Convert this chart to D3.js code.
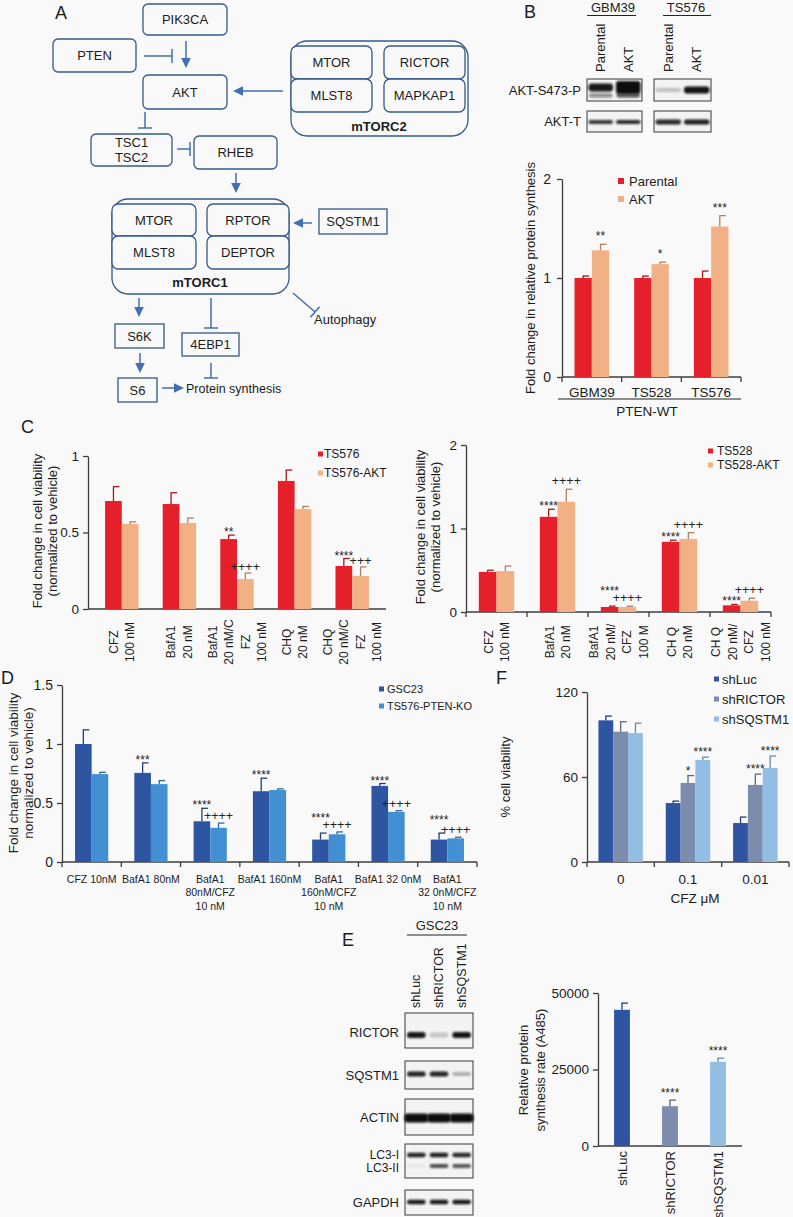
<!DOCTYPE html>
<html><head><meta charset="utf-8">
<script src="https://cdn.jsdelivr.net/npm/d3@7"></script>
<style>
body{margin:0;background:#f9f9f9;}
svg{display:block;font-family:"Liberation Sans",Arial,Helvetica,sans-serif;}
</style></head><body>
<svg id="fig" width="793" height="1217"></svg>
<script>
// ---------------- DATA ----------------
// Panel B
const bGroups = ["GBM39", "TS528", "TS576"];
const bParental = [1.0, 1.0, 1.0];
const bParentalErr = [1.02, 1.02, 1.07];
const bAKT = [1.28, 1.14, 1.52];
const bAKTErr = [1.34, 1.16, 1.63];
const bAKTSig = ["**", "*", "***"];
const bParentalSig = ["", "", ""];
const bYTicks = [0, 1, 2];
const bLanes = ["Parental", "AKT", "Parental ", "AKT "];
const bBlotPhos = [0.95, 1.0, 0.22, 0.97];
const bBlotTotal = [0.82, 0.88, 0.88, 0.92];

// Panel C left
const cLGroups = [["CFZ", "100 nM"], ["BafA1", "20 nM"], ["BafA1", "20 nM/C", "FZ", "100 nM"], ["CHQ", "20 nM"], ["CHQ", "20 nM/C", "FZ", "100 nM"]];
const cLTS576 = [0.706, 0.686, 0.457, 0.837, 0.281];
const cLTS576Err = [0.80, 0.76, 0.483, 0.908, 0.33];
const cLTS576AKT = [0.556, 0.562, 0.196, 0.653, 0.216];
const cLTS576AKTErr = [0.57, 0.595, 0.235, 0.67, 0.275];
const cLSig1 = ["", "", "**", "", "****"];
const cLSig2 = ["", "", "++++", "", "+++"];
const cLYTicks = [0, 0.5, 1];

// Panel C right
const cRGroups = [["CFZ", "100 nM"], ["BafA1", "20 nM"], ["BafA1", "20 nM/", "CFZ", "100 M"], ["CH Q", "20 nM"], ["CH Q", "20 nM/", "CFZ", "100 nM"]];
const cRTS528 = [0.48, 1.14, 0.06, 0.84, 0.08];
const cRTS528Err = [0.50, 1.23, 0.07, 0.86, 0.09];
const cRTS528AKT = [0.49, 1.32, 0.06, 0.875, 0.135];
const cRTS528AKTErr = [0.55, 1.47, 0.07, 0.95, 0.165];
const cRSig1 = ["", "****", "****", "****", "****"];
const cRSig2 = ["", "++++", "++++", "++++", "++++"];
const cRYTicks = [0, 1, 2];

// Panel D
const dGroups = [["CFZ 10nM"], ["BafA1 80nM"], ["BafA1", "80nM/CFZ", "10 nM"], ["BafA1 160nM"], ["BafA1", "160nM/CFZ", "10 nM"], ["BafA1 32 0nM"], ["BafA1", "32 0nM/CFZ", "10 nM"]];
const dGSC23 = [1.0, 0.755, 0.345, 0.60, 0.19, 0.645, 0.19];
const dGSC23Err = [1.12, 0.84, 0.455, 0.71, 0.245, 0.665, 0.245];
const dPTENKO = [0.745, 0.66, 0.29, 0.61, 0.235, 0.425, 0.20];
const dPTENKOErr = [0.76, 0.69, 0.33, 0.62, 0.255, 0.435, 0.21];
const dSig1 = ["", "***", "****", "****", "****", "****", "****"];
const dSig2 = ["", "", "++++", "", "++++", "++++", "++++"];
const dYTicks = [0, 0.5, 1, 1.5];

// Panel F
const fGroups = ["0", "0.1", "0.01"];
const fShLuc = [100, 41.6, 27.5];
const fShLucErr = [103, 43, 31.7];
const fShRICTOR = [92, 55.8, 54.4];
const fShRICTORErr = [99, 61, 62];
const fShSQSTM1 = [91, 72, 66.4];
const fShSQSTM1Err = [98, 74, 74.8];
const fSigLuc = ["", "", ""];
const fSigRICTOR = ["", "*", "****"];
const fSigSQSTM1 = ["", "****", "****"];
const fYTicks = [0, 60, 120];

// Panel E
const eLanes = ["shLuc", "shRICTOR", "shSQSTM1"];
const eRate = [44500, 13000, 27500];
const eRateErr = [46700, 15000, 28700];
const eSig = ["", "****", "****"];
const eYTicks = [0, 25000, 50000];
const eBlotRICTOR = [0.95, 0.2, 0.97];
const eBlotSQSTM1 = [0.9, 0.9, 0.3];
const eBlotACTIN = [1.0, 1.0, 1.0];
const eBlotLC3I = [0.9, 0.92, 0.88];
const eBlotLC3II = [0.06, 0.72, 0.68];
const eBlotGAPDH = [0.95, 0.95, 0.95];

// Panel A pathway nodes
const aNodes = ["PIK3CA", "PTEN", "AKT", "TSC1\nTSC2", "RHEB", "MTOR", "MLST8", "RICTOR", "MAPKAP1", "MTOR ", "MLST8 ", "RPTOR", "DEPTOR", "SQSTM1", "S6K", "4EBP1", "S6"];

// ---------------- COLOURS ----------------
const RED = "#e5202a", PEACH = "#f2b184";
const DBLUE = "#2d55a2", LBLUE = "#428fd3";
const GBLUE = "#7b8cac", PBLUE = "#93bde3";
const AXC = "#3c3c3c", TXT = "#1c1c1c";
const BOXC = "#35598a", ARC = "#416fb1";

const svg = d3.select("#fig");
const defs = svg.append("defs");
defs.append("filter").attr("id", "blur").attr("x", "-30%").attr("y", "-80%").attr("width", "160%").attr("height", "260%")
  .append("feGaussianBlur").attr("stdDeviation", 1.1);

function txt(x, y, s, o = {}) {
  const t = svg.append("text").attr("x", x).attr("y", y).text(s)
    .attr("font-size", o.size || 13).attr("fill", o.fill || TXT)
    .attr("text-anchor", o.anchor || "start");
  if (o.weight) t.attr("font-weight", o.weight);
  if (o.dy) t.attr("dy", o.dy);
  if (o.rotate) t.attr("transform", `rotate(${o.rotate},${x},${y})`);
  return t;
}

// ---------------- PANEL LABELS ----------------
txt(55, 19, "A", {size: 18});
txt(524, 18, "B", {size: 18});
txt(21, 433, "C", {size: 18});
txt(1, 684, "D", {size: 18});
txt(342, 946, "E", {size: 18});
txt(496, 684, "F", {size: 18});

// ---------------- PANEL A ----------------
const aLayout = {
  "PIK3CA": [143, 4, 84, 31, 5], "PTEN": [53, 39, 83, 33, 5], "AKT": [143, 75, 84, 34, 5],
  "TSC1\nTSC2": [91, 134, 81, 32, 5], "RHEB": [194, 136, 83, 33, 5],
  "MTOR": [291, 46, 81, 33, 6], "MLST8": [291, 79, 81, 33, 6], "RICTOR": [384, 46, 81, 33, 6], "MAPKAP1": [384, 79, 81, 33, 6],
  "MTOR ": [112, 204, 84, 32, 6], "MLST8 ": [112, 236, 84, 33, 6], "RPTOR": [207, 204, 82, 32, 6], "DEPTOR": [207, 236, 82, 33, 6],
  "SQSTM1": [319, 209, 68, 25, 0], "S6K": [115, 324, 49, 24, 0], "4EBP1": [182, 333, 57, 23, 0], "S6": [118, 378, 39, 24, 0]
};
svg.append("rect").attr("x", 291).attr("y", 41).attr("width", 177).attr("height", 95).attr("rx", 16)
  .attr("fill", "none").attr("stroke", BOXC).attr("stroke-width", 1.3);
svg.append("rect").attr("x", 112).attr("y", 199).attr("width", 177).attr("height", 95).attr("rx", 16)
  .attr("fill", "none").attr("stroke", BOXC).attr("stroke-width", 1.3);
txt(379, 130.5, "mTORC2", {anchor: "middle", weight: "bold"});
txt(200, 286.5, "mTORC1", {anchor: "middle", weight: "bold"});
aNodes.forEach(n => {
  const [x, y, w, h, r] = aLayout[n];
  svg.append("rect").attr("x", x).attr("y", y).attr("width", w).attr("height", h).attr("rx", r)
    .attr("fill", "#f9f9f9").attr("stroke", BOXC).attr("stroke-width", 1.3);
  const lines = n.split("\n");
  lines.forEach((l, i) => {
    txt(x + w / 2, y + h / 2 + (i - (lines.length - 1) / 2) * 15, l.trim(), {anchor: "middle", dy: "0.36em"});
  });
});
function arrow(x1, y1, x2, y2) {
  const L = Math.hypot(x2 - x1, y2 - y1), ux = (x2 - x1) / L, uy = (y2 - y1) / L;
  const bx = x2 - ux * 10, by = y2 - uy * 10;
  svg.append("line").attr("x1", x1).attr("y1", y1).attr("x2", bx).attr("y2", by).attr("stroke", ARC).attr("stroke-width", 1.5);
  svg.append("path").attr("d", `M${x2},${y2}L${bx - uy * 4.8},${by + ux * 4.8}L${bx + uy * 4.8},${by - ux * 4.8}Z`).attr("fill", ARC);
}
function inhibit(x1, y1, x2, y2) {
  const L = Math.hypot(x2 - x1, y2 - y1), ux = (x2 - x1) / L, uy = (y2 - y1) / L;
  svg.append("line").attr("x1", x1).attr("y1", y1).attr("x2", x2).attr("y2", y2).attr("stroke", ARC).attr("stroke-width", 1.5);
  svg.append("line").attr("x1", x2 - uy * 7).attr("y1", y2 + ux * 7).attr("x2", x2 + uy * 7).attr("y2", y2 - ux * 7).attr("stroke", ARC).attr("stroke-width", 1.5);
}
arrow(186, 41, 186, 68);
inhibit(144, 56, 172, 56);
arrow(283, 91, 233, 91);
inhibit(145, 112, 145, 128);
inhibit(177, 149, 190, 149);
arrow(236, 173, 236, 193);
arrow(312, 223, 293, 223);
arrow(139, 298, 139, 317);
inhibit(211, 298, 211, 328);
inhibit(293, 293, 315, 312);
arrow(140, 353, 140, 373);
arrow(162, 388, 184, 388);
inhibit(211, 363, 211, 378);
txt(186, 388, "Protein synthesis", {dy: "0.36em", size: 12.5});
txt(314, 319, "Autophagy", {dy: "0.36em"});

// ---------------- BLOTS ----------------
function blotBox(x, y, w, h) {
  svg.append("rect").attr("x", x).attr("y", y).attr("width", w).attr("height", h)
    .attr("fill", "#f3f3f3").attr("stroke", "#4a4a4a").attr("stroke-width", 1.1);
}
function band(cx, cy, w, h, op) {
  svg.append("rect").attr("x", cx - w / 2).attr("y", cy - h / 2).attr("width", w).attr("height", h)
    .attr("rx", Math.min(h / 2, 3)).attr("fill", "#0a0a0a").attr("opacity", op).attr("filter", "url(#blur)");
}
const bBoxes = [[587, 55, [0, 1]], [654, 57, [2, 3]]];
txt(613, 12, "GBM39", {anchor: "middle"});
txt(686, 12, "TS576", {anchor: "middle"});
svg.append("line").attr("x1", 587).attr("x2", 636).attr("y1", 15.5).attr("y2", 15.5).attr("stroke", "#222");
svg.append("line").attr("x1", 663).attr("x2", 711).attr("y1", 15.5).attr("y2", 15.5).attr("stroke", "#222");
bBoxes.forEach(([bx, bw, idx]) => {
  const lx = d3.scaleBand().domain(idx.map(i => bLanes[i])).range([bx, bx + bw]);
  blotBox(bx, 79, bw, 22);
  blotBox(bx, 111, bw, 21);
  idx.forEach(i => {
    const c = lx(bLanes[i]) + lx.bandwidth() / 2;
    txt(c + 4.5, 72, bLanes[i].trim(), {rotate: -90});
    const p = bBlotPhos[i];
    if (p > 0.9 && bx < 600) {
      band(c, 87.5, lx.bandwidth() - 3, i === 1 ? 13 : 8, p);
      band(c, 95.5, lx.bandwidth() - 4, 4, i === 1 ? 0.7 : 0.45);
    } else {
      band(c, 90, lx.bandwidth() - 3, p > 0.5 ? 7 : 4, p);
    }
    band(c, 122, lx.bandwidth() - 3, bx < 600 ? 4 : 5, bBlotTotal[i]);
  });
});
txt(581, 90, "AKT-S473-P", {anchor: "end", dy: "0.36em"});
txt(581, 121, "AKT-T", {anchor: "end", dy: "0.36em"});

const eX = 405, eW = 68;
const eLx = d3.scaleBand().domain(eLanes).range([eX, eX + eW]);
txt(437, 930, "GSC23", {anchor: "middle"});
svg.append("line").attr("x1", 407).attr("x2", 467).attr("y1", 935).attr("y2", 935).attr("stroke", "#222");
const eRowsLayout = [
  {name: "RICTOR", y: 1013, h: 35, bands: [[eBlotRICTOR, 1035, 6]]},
  {name: "SQSTM1", y: 1061, h: 28, bands: [[eBlotSQSTM1, 1074, 5]]},
  {name: "ACTIN", y: 1099, h: 36, bands: [[eBlotACTIN, 1118, 9]]},
  {name: "LC3", y: 1144, h: 34, bands: [[eBlotLC3I, 1155, 4.5], [eBlotLC3II, 1166, 4]]},
  {name: "GAPDH", y: 1190, h: 25, bands: [[eBlotGAPDH, 1202, 4.5]]}
];
eRowsLayout.forEach(r => {
  blotBox(eX, r.y, eW, r.h);
  r.bands.forEach(([vals, cy, h]) => {
    eLanes.forEach((l, i) => {
      const c = eLx(l) + eLx.bandwidth() / 2;
      const w = r.name === "ACTIN" ? eLx.bandwidth() + 1 : eLx.bandwidth() - 4;
      band(c, cy, w, vals[i] < 0.4 ? h - 1 : h, vals[i]);
    });
  });
});
eLanes.forEach(l => txt(eLx(l) + eLx.bandwidth() / 2 + 4, 1008, l, {rotate: -90, size: 12.5}));
txt(399, 1032, "RICTOR", {anchor: "end", dy: "0.36em"});
txt(399, 1075, "SQSTM1", {anchor: "end", dy: "0.36em"});
txt(399, 1117, "ACTIN", {anchor: "end", dy: "0.36em"});
txt(399, 1155, "LC3-I", {anchor: "end", dy: "0.33em", size: 12});
txt(399, 1168, "LC3-II", {anchor: "end", dy: "0.33em", size: 12});
txt(399, 1202, "GAPDH", {anchor: "end", dy: "0.36em"});

// ---------------- BAR CHART ----------------
function barChart(c) {
  const g = svg.append("g");
  const y = d3.scaleLinear().domain([0, c.yMax]).range([c.y0, c.y1]);
  const keys = c.groups.map(d => Array.isArray(d) ? d.join("|") : d);
  const x0 = d3.scaleBand().domain(keys).range(c.band);
  const x1 = d3.scaleBand().domain(c.series.map(s => s.name))
    .range([x0.bandwidth() * c.gpad, x0.bandwidth() * (1 - c.gpad)]);
  const bw = x1.bandwidth();
  g.append("line").attr("x1", c.axisX[0]).attr("x2", c.axisX[1]).attr("y1", y(0)).attr("y2", y(0))
    .attr("stroke", AXC).attr("stroke-width", 1.3);
  if (c.xTicks) {
    keys.map(k => x0(k)).concat([c.band[1]]).forEach(xx => {
      g.append("line").attr("x1", xx).attr("x2", xx).attr("y1", y(0)).attr("y2", y(0) + 5).attr("stroke", AXC).attr("stroke-width", 1.3);
    });
  }
  c.series.forEach(s => {
    keys.forEach((k, i) => {
      const col = s.colors ? s.colors[i] : s.color;
      const err = d3.color(col).darker(c.errDark || 0.9).formatHex();
      const bx = x0(k) + x1(s.name), cx = bx + bw / 2;
      g.append("rect").attr("x", bx).attr("y", y(s.values[i])).attr("width", bw)
        .attr("height", y(0) - y(s.values[i])).attr("fill", col);
      if (s.errs) {
        g.append("line").attr("x1", cx).attr("x2", cx).attr("y1", y(s.values[i])).attr("y2", y(s.errs[i])).attr("stroke", err).attr("stroke-width", 1.3);
        g.append("line").attr("x1", cx - 0.5).attr("x2", cx + 6).attr("y1", y(s.errs[i])).attr("y2", y(s.errs[i])).attr("stroke", err).attr("stroke-width", 1.3);
      }
    });
  });
  keys.forEach((k, i) => {
    const marks = c.series.map(s => {
      if (!s.sig || !s.sig[i]) return null;
      const cx = x0(k) + x1(s.name) + bw / 2;
      const plus = s.sig[i][0] === "+";
      const yc = y(s.errs[i]) - (plus ? c.plusOff : c.sigOff);
      return {cx, yc, plus, t: s.sig[i]};
    });
    const m = marks.filter(d => d);
    if (m.length === 2 && Math.abs(m[0].yc - m[1].yc) < 8) {
      m[0].yc = Math.min(m[0].yc, m[1].yc) - 10;
    }
    m.forEach(d => {
      g.append("text").attr("x", d.cx).attr("y", d.yc + (d.plus ? 4.2 : 7)).attr("text-anchor", "middle")
        .attr("font-size", d.plus ? 12.5 : c.starSize || 12).attr("fill", "#222").text(d.t);
    });
  });
  const ax = g.append("g").attr("transform", `translate(${c.axisX[0]},0)`)
    .call(d3.axisLeft(y).tickValues(c.yTicks).tickFormat(d3.format("~g")).tickSize(5).tickSizeOuter(0).tickPadding(c.tickPad || 4));
  ax.select(".domain").attr("stroke", AXC).attr("stroke-width", 1.3);
  ax.selectAll(".tick line").attr("stroke", AXC).attr("stroke-width", 1.3);
  ax.selectAll(".tick text").attr("font-size", c.tickFont || 13).attr("fill", TXT).attr("font-family", null);
  keys.forEach((k, i) => {
    const lines = Array.isArray(c.groups[i]) ? c.groups[i] : [c.groups[i]];
    const cx = x0(k) + x0.bandwidth() / 2;
    if (c.xLabelMode === "rot") {
      lines.forEach((l, j) => {
        const lx = cx + (j - (lines.length - 1) / 2) * c.lineGap;
        txt(lx, c.labelY, l, {anchor: "middle", rotate: -90, dy: "0.36em", size: c.labelFont});
      });
    } else if (c.xLabelMode === "rotEnd") {
      txt(cx, c.labelY, lines[0], {anchor: "end", rotate: -90, dy: "0.36em", size: c.labelFont});
    } else {
      lines.forEach((l, j) => {
        txt(cx, c.labelY + j * c.lineGap, l, {anchor: "middle", dy: "0.36em", size: c.labelFont});
      });
    }
  });
  if (c.legend) {
    c.series.forEach((s, i) => {
      const ly = c.legend.y + i * c.legend.gap;
      g.append("rect").attr("x", c.legend.x).attr("y", ly - c.legend.sq / 2).attr("width", c.legend.sq).attr("height", c.legend.sq).attr("fill", s.color);
      txt(c.legend.x + c.legend.sq + c.legend.pad, ly, s.name, {dy: "0.36em", size: c.legend.size});
    });
  }
  c.yLabel.forEach((l, j) => {
    txt(c.yLabelX[j], c.yLabelY, l, {anchor: "middle", rotate: -90, dy: "0.36em", size: c.yLabelSize || 13});
  });
  return {x0, y};
}

barChart({
  y0: 377, y1: 179, yMax: 2, yTicks: bYTicks, band: [562, 741], axisX: [562, 741], gpad: 0.21, xTicks: true,
  series: [
    {name: "Parental", color: RED, values: bParental, errs: bParentalErr, sig: bParentalSig},
    {name: "AKT", color: PEACH, values: bAKT, errs: bAKTErr, sig: bAKTSig}
  ],
  groups: bGroups, sigOff: 11, plusOff: 8, tickPad: 6, tickFont: 14,
  xLabelMode: "h", labelY: 392, lineGap: 14, labelFont: 13.5,
  legend: {x: 618, y: 181, gap: 18, sq: 6, pad: 5, size: 13},
  yLabel: ["Fold change in relative protein synthesis"], yLabelX: [530], yLabelY: 278
});
svg.append("line").attr("x1", 558).attr("x2", 741).attr("y1", 399).attr("y2", 399).attr("stroke", "#222").attr("stroke-width", 1.1);
txt(647, 416, "PTEN-WT", {anchor: "middle", size: 13.5});

barChart({
  y0: 609, y1: 456, yMax: 1, yTicks: cLYTicks, band: [93, 381], axisX: [88, 386], gpad: 0.21, xTicks: false,
  series: [
    {name: "TS576", color: RED, values: cLTS576, errs: cLTS576Err, sig: cLSig1},
    {name: "TS576-AKT", color: PEACH, values: cLTS576AKT, errs: cLTS576AKTErr, sig: cLSig2}
  ],
  groups: cLGroups, sigOff: 6, plusOff: 6, tickFont: 13.5,
  xLabelMode: "rot", labelY: 642, lineGap: 16.5, labelFont: 12,
  legend: {x: 318, y: 454, gap: 19, sq: 5, pad: 1, size: 12},
  yLabel: ["Fold change in cell viability", "(normalized to vehicle)"], yLabelX: [37, 52], yLabelY: 531
});

barChart({
  y0: 612, y1: 445, yMax: 2, yTicks: cRYTicks, band: [466, 771], axisX: [466, 771], gpad: 0.21, xTicks: true,
  series: [
    {name: "TS528", color: RED, values: cRTS528, errs: cRTS528Err, sig: cRSig1},
    {name: "TS528-AKT", color: PEACH, values: cRTS528AKT, errs: cRTS528AKTErr, sig: cRSig2}
  ],
  groups: cRGroups, sigOff: 6, plusOff: 8, tickFont: 13.5,
  xLabelMode: "rot", labelY: 642, lineGap: 16.5, labelFont: 12,
  legend: {x: 708, y: 451, gap: 14, sq: 5, pad: 4, size: 12},
  yLabel: ["Fold change in cell viability", "(normalized to vehicle)"], yLabelX: [420, 435], yLabelY: 527
});

barChart({
  y0: 862, y1: 685, yMax: 1.5, yTicks: dYTicks, band: [62, 477], axisX: [62, 477], gpad: 0.22, xTicks: true,
  series: [
    {name: "GSC23", color: DBLUE, values: dGSC23, errs: dGSC23Err, sig: dSig1},
    {name: "TS576-PTEN-KO", color: LBLUE, values: dPTENKO, errs: dPTENKOErr, sig: dSig2}
  ],
  groups: dGroups, sigOff: 6, plusOff: 7, tickFont: 14,
  xLabelMode: "h", labelY: 879, lineGap: 13.5, labelFont: 10.5,
  legend: {x: 379, y: 689, gap: 17, sq: 5, pad: 3, size: 11},
  yLabel: ["Fold change in cell viability", "normalized to vehicle)"], yLabelX: [13, 28], yLabelY: 773, yLabelSize: 13.5
});

barChart({
  y0: 862, y1: 692, yMax: 120, yTicks: fYTicks, band: [587, 789], axisX: [587, 789], gpad: 0.17, xTicks: true,
  series: [
    {name: "shLuc", color: DBLUE, values: fShLuc, errs: fShLucErr, sig: fSigLuc},
    {name: "shRICTOR", color: GBLUE, values: fShRICTOR, errs: fShRICTORErr, sig: fSigRICTOR},
    {name: "shSQSTM1", color: PBLUE, values: fShSQSTM1, errs: fShSQSTM1Err, sig: fSigSQSTM1}
  ],
  groups: fGroups, sigOff: 8, plusOff: 8, tickFont: 13.5,
  xLabelMode: "h", labelY: 879, lineGap: 14, labelFont: 13.5,
  legend: {x: 714, y: 679, gap: 20, sq: 5, pad: 3, size: 13},
  yLabel: ["% cell viability"], yLabelX: [505], yLabelY: 777
});
txt(695, 898, "CFZ μM", {anchor: "middle", dy: "0.36em", size: 13.5});

barChart({
  y0: 1146, y1: 993, yMax: 50000, yTicks: eYTicks, band: [598, 742], axisX: [598, 742], gpad: 0.335, xTicks: false,
  series: [
    {name: "rate", color: DBLUE, colors: [DBLUE, GBLUE, PBLUE], values: eRate, errs: eRateErr, sig: eSig}
  ],
  groups: eLanes, sigOff: 10, plusOff: 8, tickFont: 13.5,
  xLabelMode: "rotEnd", labelY: 1151, lineGap: 0, labelFont: 13,
  yLabel: ["Relative protein", "synthesis rate (A485)"], yLabelX: [523, 540], yLabelY: 1070
});
</script>
</body></html>
